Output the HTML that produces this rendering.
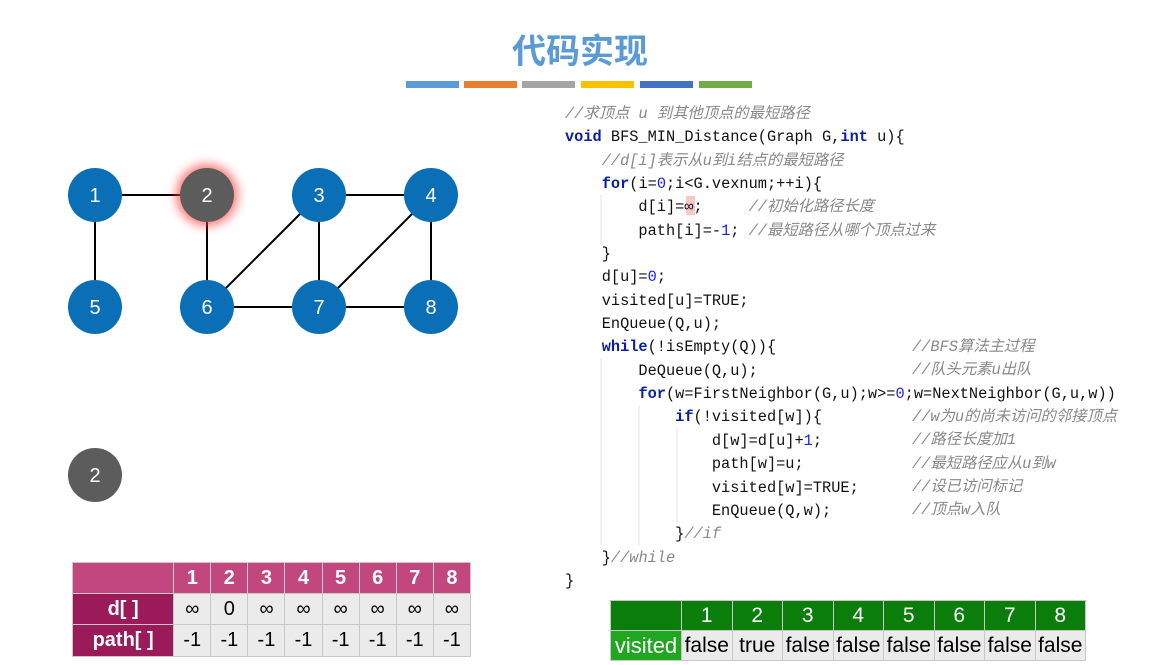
<!DOCTYPE html>
<html><head><meta charset="utf-8"><style>
body{margin:0;width:1151px;height:665px;background:#fff;position:relative;overflow:hidden;font-family:"Liberation Sans","Noto Sans CJK SC",sans-serif}
.t{position:absolute;left:0;width:1160px;text-align:center;top:24px;font-size:34px;font-weight:bold;color:#5b9bd5}
.bar{position:absolute;top:81px;height:7px;width:53px}
.code{position:absolute;font-family:"Liberation Mono","Noto Sans CJK SC",monospace;font-size:15.3px;white-space:pre;color:#111;line-height:20px}
.c{color:#888;font-style:italic}
.k{color:#0a1fa0;font-weight:bold}
.n{color:#1a1aff}
table{position:absolute;border-collapse:collapse;font-family:"Liberation Sans",sans-serif;table-layout:fixed}
td{border:1px solid #c8c8c8;text-align:center;padding:0;overflow:hidden;white-space:nowrap}
</style></head><body>
<div class="t">代码实现</div>
<div class="bar" style="left:406px;background:#5b9bd5"></div>
<div class="bar" style="left:464px;background:#ed7d31"></div>
<div class="bar" style="left:522px;background:#a5a5a5"></div>
<div class="bar" style="left:581px;background:#ffc000"></div>
<div class="bar" style="left:640px;background:#4472c4"></div>
<div class="bar" style="left:699px;background:#70ad47"></div>

<svg width="1151" height="665" style="position:absolute;left:0;top:0">
<defs><filter id="g" x="-1" y="-1" width="3" height="3"><feGaussianBlur stdDeviation="5"/></filter></defs>
<g stroke="#000" stroke-width="2">
<line x1="95" y1="195" x2="207" y2="195"/><line x1="319" y1="195" x2="431" y2="195"/>
<line x1="95" y1="195" x2="95" y2="307"/><line x1="207" y1="195" x2="207" y2="307"/>
<line x1="319" y1="195" x2="319" y2="307"/><line x1="431" y1="195" x2="431" y2="307"/>
<line x1="207" y1="307" x2="431" y2="307"/>
<line x1="319" y1="195" x2="207" y2="307"/><line x1="431" y1="195" x2="319" y2="307"/>
</g>
<circle cx="207" cy="195" r="31" fill="#ff4040" opacity="0.7" filter="url(#g)"/>
<g font-family="Liberation Sans" font-size="20" fill="#fff" text-anchor="middle">
<circle cx="95" cy="195" r="27" fill="#0a6fb7"/><text x="95" y="202">1</text>
<circle cx="207" cy="195" r="27" fill="#5c5c5c"/><text x="207" y="202">2</text>
<circle cx="319" cy="195" r="27" fill="#0a6fb7"/><text x="319" y="202">3</text>
<circle cx="431" cy="195" r="27" fill="#0a6fb7"/><text x="431" y="202">4</text>
<circle cx="95" cy="307" r="27" fill="#0a6fb7"/><text x="95" y="314">5</text>
<circle cx="207" cy="307" r="27" fill="#0a6fb7"/><text x="207" y="314">6</text>
<circle cx="319" cy="307" r="27" fill="#0a6fb7"/><text x="319" y="314">7</text>
<circle cx="431" cy="307" r="27" fill="#0a6fb7"/><text x="431" y="314">8</text>
<circle cx="95" cy="475" r="27" fill="#5c5c5c"/><text x="95" y="482">2</text>
</g>
<g stroke="#e6e6e6" stroke-width="1">
<line x1="601" y1="195" x2="601" y2="245"/><line x1="601" y1="358" x2="601" y2="545"/>
<line x1="639" y1="405" x2="639" y2="545"/><line x1="677" y1="428" x2="677" y2="522"/>
</g>
<rect x="686" y="196" width="9" height="19" fill="#f8c8c8"/>
</svg>

<div class="code" style="left:565px;top:103px;line-height:23.35px"><span class="c">//求顶点 u 到其他顶点的最短路径</span>
<span class="k">void</span> BFS_MIN_Distance(Graph G,<span class="k">int</span> u){
    <span class="c">//d[i]表示从u到i结点的最短路径</span>
    <span class="k">for</span>(i=<span class="n">0</span>;i&lt;G.vexnum;++i){
        d[i]=∞;     <span class="c">//初始化路径长度</span>
        path[i]=-<span class="n">1</span>; <span class="c">//最短路径从哪个顶点过来</span>
    }
    d[u]=<span class="n">0</span>;
    visited[u]=TRUE;
    EnQueue(Q,u);
    <span class="k">while</span>(!isEmpty(Q)){
        DeQueue(Q,u);
        <span class="k">for</span>(w=FirstNeighbor(G,u);w&gt;=<span class="n">0</span>;w=NextNeighbor(G,u,w))
            <span class="k">if</span>(!visited[w]){
                d[w]=d[u]+<span class="n">1</span>;
                path[w]=u;
                visited[w]=TRUE;
                EnQueue(Q,w);
            }<span class="c">//if</span>
    }<span class="c">//while</span>
}</div>
<div class="code c" style="left:912px;top:336px;line-height:23.35px">//BFS算法主过程
//队头元素u出队

//w为u的尚未访问的邻接顶点
//路径长度加1
//最短路径应从u到w
//设已访问标记
//顶点w入队</div>

<table style="left:72px;top:562px;width:399px;font-size:20px">
<col style="width:101px"><col span="8" style="width:37px">
<tr style="height:31px;background:#c2477f;color:#fff;font-weight:bold"><td></td><td>1</td><td>2</td><td>3</td><td>4</td><td>5</td><td>6</td><td>7</td><td>8</td></tr>
<tr style="height:31px;background:#ebebeb"><td style="background:#9b1a5a;color:#fff;font-weight:bold">d[ ]</td><td>∞</td><td>0</td><td>∞</td><td>∞</td><td>∞</td><td>∞</td><td>∞</td><td>∞</td></tr>
<tr style="height:32px;background:#ebebeb"><td style="background:#9b1a5a;color:#fff;font-weight:bold">path[ ]</td><td>-1</td><td>-1</td><td>-1</td><td>-1</td><td>-1</td><td>-1</td><td>-1</td><td>-1</td></tr>
</table>

<table style="left:610px;top:600px;width:475px;font-size:21px">
<col style="width:71px"><col span="8" style="width:50.5px">
<tr style="height:30px;background:#0a7d0a;color:#fff"><td></td><td>1</td><td>2</td><td>3</td><td>4</td><td>5</td><td>6</td><td>7</td><td>8</td></tr>
<tr style="height:30px;background:#ebebeb"><td style="background:#1fa81f;color:#fff;font-size:22px">visited</td><td>false</td><td>true</td><td>false</td><td>false</td><td>false</td><td>false</td><td>false</td><td>false</td></tr>
</table>
</body></html>
